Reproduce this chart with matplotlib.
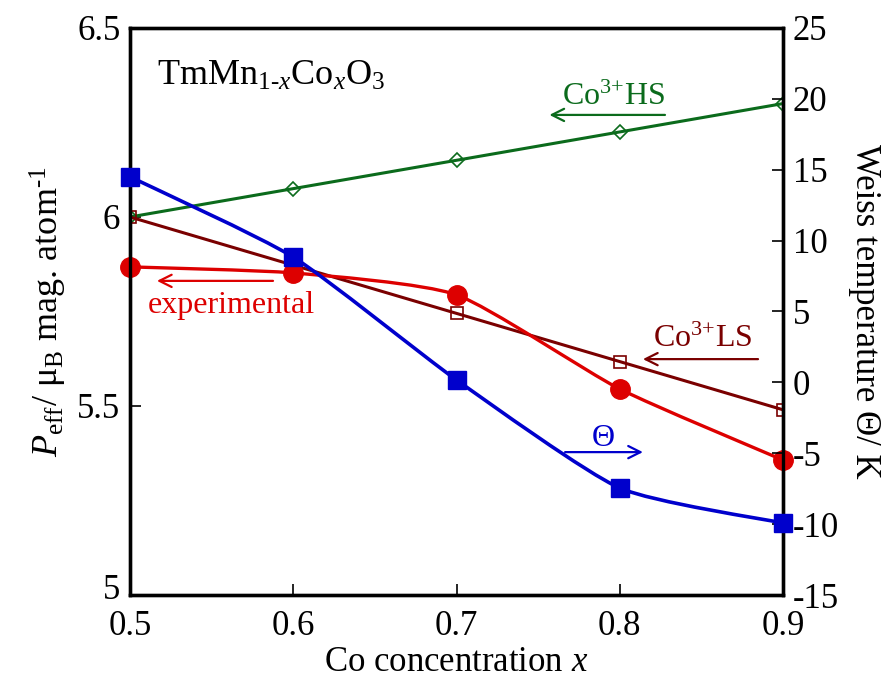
"""Effective moment and Weiss temperature of TmMn(1-x)Co(x)O3"""

import matplotlib
matplotlib.use("Agg")
import matplotlib.pyplot as plt
import matplotlib.transforms as mtransforms
import numpy as np
from matplotlib.path import Path
from matplotlib.patches import PathPatch

plt.rcParams["font.family"] = ["Liberation Serif", "DejaVu Serif"]
plt.rcParams["mathtext.fontset"] = "custom"
plt.rcParams["mathtext.rm"] = "Liberation Serif"
plt.rcParams["mathtext.it"] = "Liberation Serif:italic"
plt.rcParams["axes.unicode_minus"] = False

# data
x_co = [0.5, 0.6, 0.7, 0.8, 0.9]
peff_exp = [5.868, 5.852, 5.794, 5.545, 5.357]
peff_hs = [6.0, 6.075, 6.15, 6.225, 6.30]
peff_ls = [6.0, 5.8725, 5.745, 5.6175, 5.49]
theta = [14.5, 8.84, 0.17, -7.45, -9.92]

x_ticks = [0.5, 0.6, 0.7, 0.8, 0.9]
left_ticks = [5, 5.5, 6, 6.5]
left_labels = ["5", "5.5", "6", "6.5"]
right_ticks = [-15, -10, -5, 0, 5, 10, 15, 20, 25]

blue = "#0000cc"
red = "#dd0000"
green = "#0b6b1c"
dred = "#7a0000"


def smooth_path(xs, ys, k=0.6):
    # softened Catmull-Rom through the measured points (cubic Bezier pieces)
    p = np.column_stack([xs, ys])
    p = np.vstack([p[0], p, p[-1]])
    verts = [p[1]]
    codes = [Path.MOVETO]
    for i in range(1, len(p) - 2):
        c1 = p[i] + k * (p[i + 1] - p[i - 1]) / 6
        c2 = p[i + 1] - k * (p[i + 2] - p[i]) / 6
        verts += [c1, c2, p[i + 1]]
        codes += [Path.CURVE4] * 3
    return Path(verts, codes)


fig = plt.figure(figsize=(8.91, 6.84), dpi=100)
ax = fig.add_axes([0.1459, 0.1301, 0.7329, 0.829])
ax2 = ax.twinx()

# calculated lines
ax.plot(x_co, peff_hs, "-", color=green, lw=2.2, marker="D", ms=7,
        mfc="none", mec=green, mew=1.2, zorder=3)
ax.plot(x_co, peff_ls, "-", color=dred, lw=2.2, marker="s", ms=9,
        mfc="none", mec=dred, mew=1.2, zorder=3)

# experimental P_eff
ax.add_patch(PathPatch(smooth_path(x_co, peff_exp), fc="none", ec=red,
                       lw=2.4, zorder=4))
ax.plot(x_co, peff_exp, "o", color=red, ms=14, zorder=5, clip_on=False)

# Weiss temperature
ax2.add_patch(PathPatch(smooth_path(x_co, theta), fc="none", ec=blue,
                        lw=2.6, zorder=4))
ax2.plot(x_co, theta, "s", color=blue, ms=13.5, zorder=5, clip_on=False)

ax.set_xlim(0.5, 0.9)
ax.set_ylim(5, 6.5)
ax2.set_ylim(-15, 25)

ax.set_xticks(x_ticks)
ax.set_xticklabels([f"{v:.1f}" for v in x_ticks])
ax.set_yticks(left_ticks)
ax.set_yticklabels(left_labels)
ax2.set_yticks(right_ticks)

ax.tick_params(axis="y", direction="in", length=8, width=1.2,
               labelsize=25, pad=7)
ax.tick_params(axis="x", direction="in", length=8, width=1.2,
               labelsize=25, pad=11, top=False)
ax2.tick_params(axis="y", direction="in", length=8, width=1.2,
                labelsize=25, pad=7)
for a in (ax, ax2):
    for s in a.spines.values():
        s.set_linewidth(2.4)

# lift the bottom left "5" a little so it clears "0.5"
lab5 = ax.get_yticklabels()[0]
lab5.set_transform(lab5.get_transform()
                   + mtransforms.ScaledTranslation(0, 6 / 72, fig.dpi_scale_trans))

ax.set_xlabel("Co concentration $x$", fontsize=25, labelpad=2)
ax.set_ylabel("$P_{\\rm eff}$/ μ$_{\\rm B}$ mag. atom$^{\\text{-}1}$",
              fontsize=26, labelpad=6)
ax2.set_ylabel("Weiss temperature Θ/ K", fontsize=25, rotation=270,
               labelpad=30)

# labels and arrows
ax.text(0.5165, 6.349, "TmMn$_{1\\text{-}x}$Co$_x$O$_3$", fontsize=26,
        ha="left", va="baseline")

ax.text(0.7646, 6.296, "Co$^{3\\text{+}}$HS", color=green, fontsize=23,
        ha="left", va="baseline")
ax.annotate("", xy=(0.7569, 6.270), xytext=(0.8277, 6.270),
            arrowprops=dict(arrowstyle="->", color=green, lw=1.6,
                            mutation_scale=22, shrinkA=0, shrinkB=0))

ax.text(0.8204, 5.656, "Co$^{3\\text{+}}$LS", color=dred, fontsize=23,
        ha="left", va="baseline")
ax.annotate("", xy=(0.8142, 5.624), xytext=(0.8847, 5.624),
            arrowprops=dict(arrowstyle="->", color=dred, lw=1.6,
                            mutation_scale=22, shrinkA=0, shrinkB=0))

ax.text(0.511, 5.746, "experimental", color=red, fontsize=23,
        ha="left", va="baseline")
ax.annotate("", xy=(0.5165, 5.831), xytext=(0.5876, 5.831),
            arrowprops=dict(arrowstyle="->", color=red, lw=1.6,
                            mutation_scale=22, shrinkA=0, shrinkB=0))

ax.text(0.790, 5.394, "Θ", color=blue, fontsize=23, ha="center",
        va="baseline")
ax.annotate("", xy=(0.8142, 5.378), xytext=(0.7665, 5.378),
            arrowprops=dict(arrowstyle="->", color=blue, lw=1.6,
                            mutation_scale=22, shrinkA=0, shrinkB=0))

fig.savefig("out.png", dpi=100)
